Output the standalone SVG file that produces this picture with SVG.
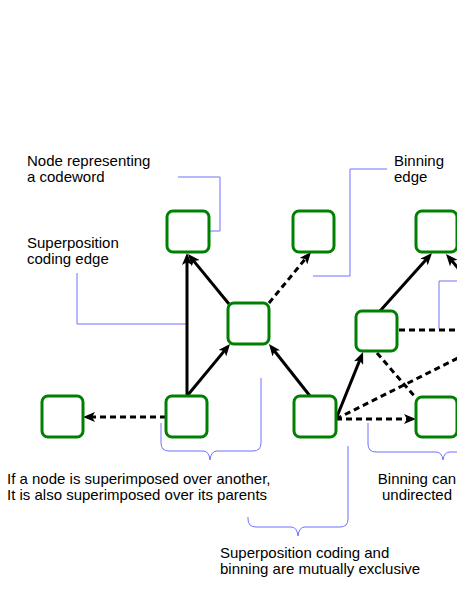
<svg xmlns="http://www.w3.org/2000/svg" width="457" height="591" viewBox="0 0 457 591">
<style>
.node{fill:#ffffff;stroke:#008000;stroke-width:3}
.e{stroke:#000;stroke-width:3;fill:none}
.d{stroke:#000;stroke-width:3;fill:none;stroke-dasharray:6,4}
.b{stroke:#7070ff;stroke-width:1;fill:none}
text{font-family:"Liberation Sans",Arial,sans-serif;font-size:15px;fill:#000}
</style>
<defs>
<marker id="ar" viewBox="0 0 12 10" refX="6" refY="5" markerWidth="12" markerHeight="10" markerUnits="userSpaceOnUse" orient="auto">
<path d="M0,0 L12,5 L0,10 L3,5 Z" fill="#000" stroke="none"/>
</marker>
</defs>
<rect width="457" height="591" fill="#fff"/>
<g id="callouts">
<path class="b" d="M178,177 H220 V231 H209"/>
<path class="b" d="M77,273 V324 H187"/>
<path class="b" d="M387,169 H350 V276 H313"/>
<path class="b" d="M457,281 H439 V329"/>
<path class="b" d="M161,423 V443 Q161,451 169,451 H203 Q209,451 210,460 Q211,451 217,451 H253 Q261,451 261,443 V378"/>
<path class="b" d="M348,446 V519 Q348,527 340,527 H305 Q299,527 298,536 Q297,527 291,527 H256 Q248,527 248,519 V517"/>
<path class="b" d="M368,423 V444 Q368,452 376,452 H436 Q442,452 443,460 Q444,452 450,452 H457"/>
</g>
<g id="connectors">
<line class="e" x1="187" y1="396" x2="187" y2="259" marker-end="url(#ar)"/>
<line class="e" x1="187" y1="396" x2="226.2" y2="348.6" marker-end="url(#ar)"/>
<line class="e" x1="229" y1="304" x2="191.8" y2="258.6" marker-end="url(#ar)"/>
<line class="d" x1="269" y1="303" x2="307.2" y2="256.6" marker-end="url(#ar)"/>
<line class="e" x1="310" y1="396" x2="272.7" y2="348.7" marker-end="url(#ar)"/>
<line class="e" x1="336" y1="419" x2="360.8" y2="357.6" marker-end="url(#ar)"/>
<line class="e" x1="380" y1="311" x2="428" y2="257.5" marker-end="url(#ar)"/>
<line class="e" x1="470" y1="282" x2="449.9" y2="258.6" marker-end="url(#ar)"/>
<line class="d" x1="399" y1="330" x2="460" y2="330"/>
<line class="d" x1="377" y1="353" x2="416" y2="398"/>
<line class="d" x1="336" y1="419" x2="470" y2="352"/>
<line class="d" x1="336" y1="419" x2="410" y2="419" marker-end="url(#ar)"/>
<line class="d" x1="166" y1="417" x2="89" y2="417" marker-end="url(#ar)"/>
</g>
<g id="n1"><rect class="node" x="167" y="211" width="42" height="41" rx="6"/></g>
<g id="n2"><rect class="node" x="293" y="211" width="41" height="41" rx="6"/></g>
<g id="n3"><rect class="node" x="416" y="211" width="41" height="41" rx="6"/></g>
<g id="n4"><rect class="node" x="228" y="303" width="41" height="41" rx="6"/></g>
<g id="n5"><rect class="node" x="356" y="311" width="41" height="40" rx="6"/></g>
<g id="n6"><rect class="node" x="42" y="396" width="41" height="41" rx="6"/></g>
<g id="n7"><rect class="node" x="166" y="396" width="41" height="41" rx="6"/></g>
<g id="n8"><rect class="node" x="294" y="396" width="42" height="41" rx="6"/></g>
<g id="n9"><rect class="node" x="416" y="397" width="41" height="40" rx="6"/></g>
<g id="labels">
<text x="27" y="166">Node representing</text>
<text x="27" y="182">a codeword</text>
<text x="27" y="248">Superposition</text>
<text x="27" y="264">coding edge</text>
<text x="394" y="166">Binning</text>
<text x="394" y="182">edge</text>
<text x="7" y="484">If a node is superimposed over another,</text>
<text x="7" y="500">It is also superimposed over its parents</text>
<text x="417" y="484" text-anchor="middle">Binning can</text>
<text x="417" y="500" text-anchor="middle">undirected</text>
<text x="220" y="558">Superposition coding and</text>
<text x="220" y="574">binning are mutually exclusive</text>
</g>
</svg>
